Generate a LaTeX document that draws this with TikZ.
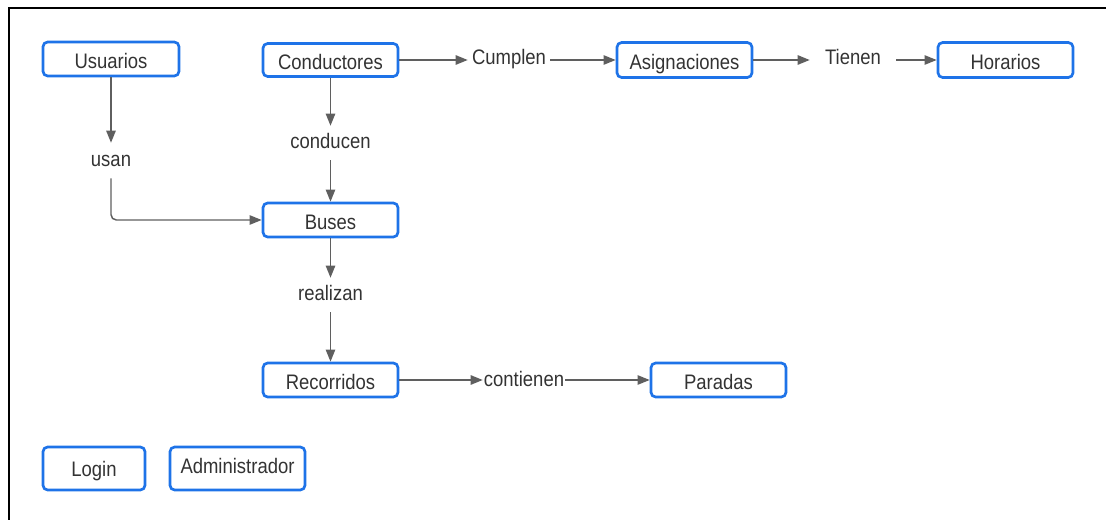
\documentclass[tikz,border=0pt]{standalone}
\usepackage{fontspec}
\setmainfont{Liberation Sans}[FakeStretch=0.88]
\usetikzlibrary{arrows.meta}
\definecolor{boxblue}{RGB}{30,115,232}
\definecolor{ink}{RGB}{51,51,51}
\definecolor{wire}{RGB}{95,95,95}
\begin{document}
\begin{tikzpicture}[x=0.75pt,y=-0.75pt,
  labelfont/.style={font=\fontsize{15.75}{19}\selectfont},
  entity/.style={draw=boxblue, line width=2pt, rounded corners=3.5pt, fill=white,
    text=ink, labelfont, minimum width=101.25pt, minimum height=25.5pt, inner sep=0pt,
    text depth=0pt, text height=14.3pt},
  verb/.style={text=ink, labelfont, inner sep=0pt},
  arr/.style={draw=wire, line width=1.1pt, -{Triangle[length=9pt,width=7pt]}}
]
\useasboundingbox (0,0) rectangle (1106,520);
% outer frame (top and left edges)
\draw[line width=1.5pt] (9,520) -- (9,8) -- (1106,8);

% entities
\node[entity, minimum width=102pt] (usu) at (111,59) {Usuarios};
\node[entity, minimum height=24.75pt, text height=15pt] (cond) at (330.5,60) {Conductores};
\node[entity, minimum height=26.25pt] (asig) at (684.5,60) {Asignaciones};
\node[entity, minimum height=26.25pt] (hor) at (1005.5,60) {Horarios};
\node[entity] (bus) at (330.5,220) {Buses};
\node[entity] (rec) at (330.5,380) {Recorridos};
\node[entity] (par) at (718.5,380) {Paradas};
\node[entity, minimum width=76.5pt, minimum height=32.25pt, text height=11.3pt] (login) at (94,468.5) {Login};
\node[entity, minimum height=32.25pt, text height=7.5pt] (admin) at (237.5,468.5) {Administrador};

% relation labels
\node[verb, minimum height=26.25pt] (usan) at (111,160.5) {usan};
\node[verb, minimum height=25.5pt, text depth=3pt] (conducen) at (330.5,143) {conducen};
\node[verb, minimum height=25.5pt, text depth=3pt] (realizan) at (330.5,295) {realizan};
\node[verb, minimum width=61.5pt, text depth=4.8pt] (cumplen) at (509,60) {Cumplen};
\node[verb, minimum width=64.5pt, text depth=4.5pt] (tienen) at (853,60) {Tienen};
\node[verb, minimum width=61.5pt, text depth=1.5pt] (contienen) at (524,380) {contienen};

% connectors
\draw[arr] (usu) -- (usan);
\draw[arr, rounded corners=4pt] (usan) |- (bus);
\draw[arr] (cond) -- (conducen);
\draw[arr] (conducen) -- (bus);
\draw[arr] (bus) -- (realizan);
\draw[arr] (realizan) -- (rec);
\draw[arr] (cond) -- (cumplen);
\draw[arr] (cumplen) -- (asig);
\draw[arr] (asig) -- (tienen);
\draw[arr] (tienen) -- (hor);
\draw[arr] (rec) -- (contienen);
\draw[arr] (contienen) -- (par);
\end{tikzpicture}
\end{document}
